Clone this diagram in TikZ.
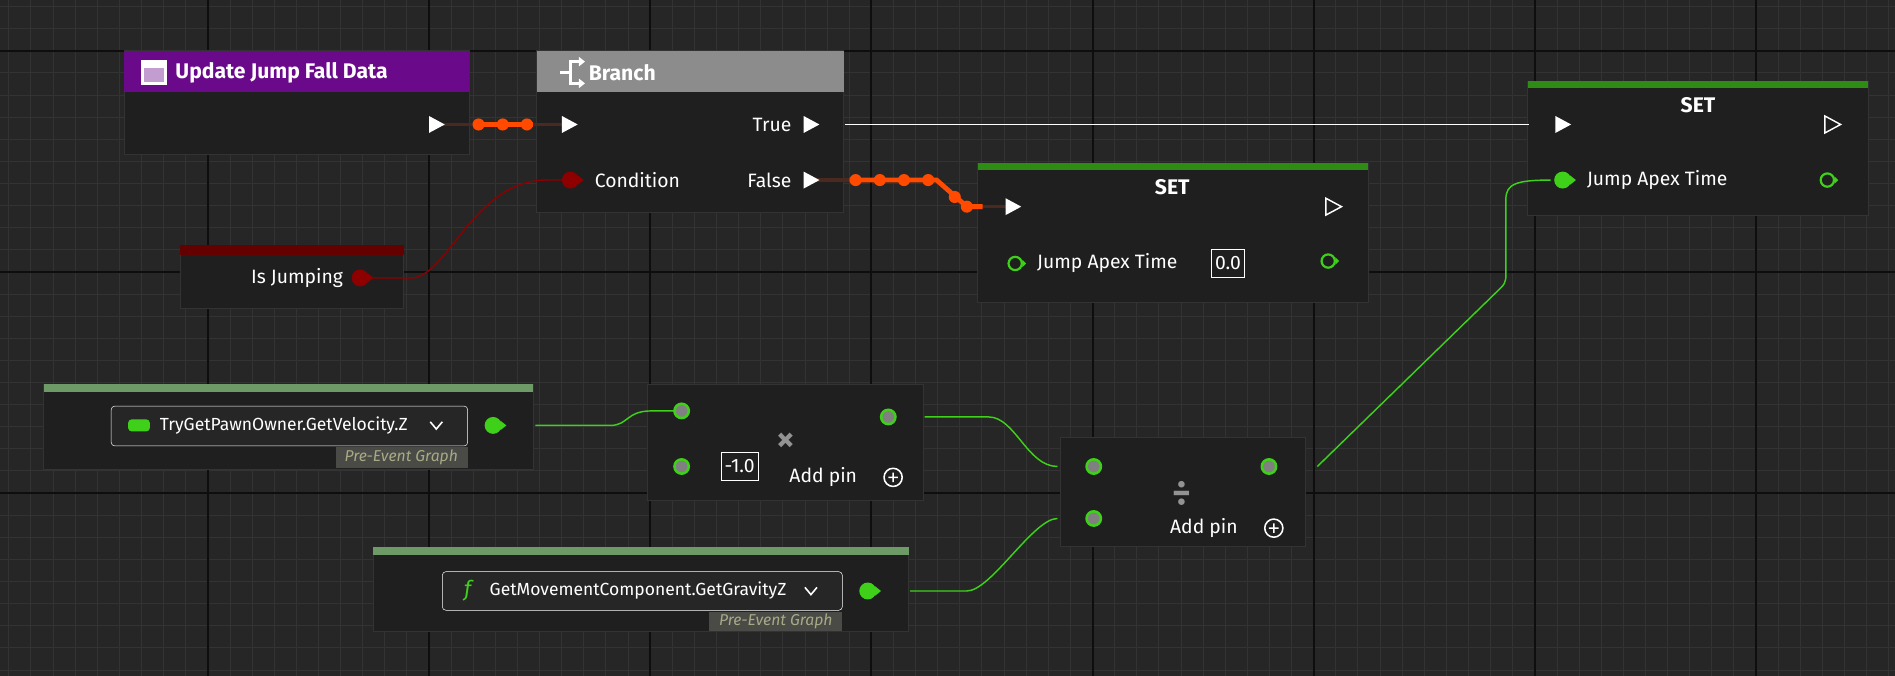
\documentclass[tikz,border=0pt]{standalone}
\usepackage{fontspec}
\setmainfont{Fira Sans}
\usetikzlibrary{calc}
\definecolor{bg}{HTML}{262626}
\definecolor{minor}{HTML}{333333}
\definecolor{major}{HTML}{0E0E0E}
\definecolor{body}{HTML}{1F1F1F}
\definecolor{purp}{HTML}{6A0A8A}
\definecolor{gry}{HTML}{8C8C8C}
\definecolor{setg}{HTML}{2E8B14}
\definecolor{lg}{HTML}{6E9A68}
\definecolor{flt}{HTML}{3FD11A}
\definecolor{boolr}{HTML}{8E0000}
\definecolor{exo}{HTML}{FF4A00}
\definecolor{exd}{HTML}{4A2A20}
\definecolor{tagc}{HTML}{4A4A46}
\definecolor{tagt}{HTML}{A8AA86}
\tikzset{x=1pt,y=-1pt,
 nbody/.style={fill=body,draw=black!80,line width=0.6pt},
 lbl/.style={text=white,font=\fontsize{16}{16}\selectfont,inner sep=0pt},
 hdr/.style={text=white!85,font=\bfseries\fontsize{17.5}{17.5}\selectfont,inner sep=0pt,anchor=west},
 pin/.style={inner sep=0pt,minimum size=1pt},
 wireg/.style={flt,line width=1.2pt},
 wireo/.style={exo,line width=4pt},
 valbox/.style={draw=white!70,line width=0.8pt,text=white,font=\fontsize{16}{16}\selectfont,inner sep=3pt,minimum height=23pt},
 opsym/.style={inner sep=0pt,text=gray!85,font=\bfseries\fontsize{30}{30}\selectfont},
}
\newcommand{\exectri}[1]{\fill[white] ($(#1)+(-6,-7)$) -- ($(#1)+(7,0)$) -- ($(#1)+(-6,7)$) -- cycle;}
\newcommand{\exechol}[1]{\draw[white,line width=1.2pt] ($(#1)+(-6,-7)$) -- ($(#1)+(7,0)$) -- ($(#1)+(-6,7)$) -- cycle;}
\newcommand{\floatpin}[1]{\fill[flt] (#1) circle (7); \fill[gray] (#1) circle (4.8);}
\newcommand{\floathol}[1]{\draw[flt,line width=1.8pt] (#1) circle (5.5); \fill[flt] ($(#1)+(6,-3)$) -- ($(#1)+(9,0)$) -- ($(#1)+(6,3)$) -- cycle;}
\newcommand{\floatfil}[1]{\fill[flt] (#1) circle (7); \fill[flt] ($(#1)+(6,-4)$) -- ($(#1)+(11,0)$) -- ($(#1)+(6,4)$) -- cycle;}
\begin{document}
\begin{tikzpicture}
\useasboundingbox (0,0) rectangle (1568,559);
\fill[bg] (0,0) rectangle (1568,559);
\foreach \i in {-10,...,90} {\draw[minor,line width=0.8pt] (172+\i*18.3,0) -- (172+\i*18.3,559);}
\foreach \i in {-3,...,30} {\draw[minor,line width=0.8pt] (0,42+\i*18.3) -- (1568,42+\i*18.3);}
\foreach \i in {-1,...,8} {\draw[major,line width=1.6pt] (172+\i*183,0) -- (172+\i*183,559);}
\foreach \i in {-1,...,3} {\draw[major,line width=1.6pt] (0,42+\i*183) -- (1568,42+\i*183);}

% ---- node bodies
\fill[nbody] (103,42) rectangle (388,128); \fill[purp] (103,42) rectangle (388,76);
\fill[white] (117,50) rectangle (138,70); \fill[purp!40!white] (119,56) rectangle (136,68);
\node[hdr] (ujfd) at (145,60) {Update Jump Fall Data};

\fill[nbody] (444,42) rectangle (698,176); \fill[gry] (444,42) rectangle (698,76);
\draw[white,line width=2.5pt] (480,51) -- (472,51) -- (472,69) -- (480,69) (463,60) -- (472,60);
\fill[white] (479,47) -- (484,51) -- (479,55) -- cycle; \fill[white] (479,65) -- (484,69) -- (479,73) -- cycle;
\node[hdr,text=white!75] (branch) at (487,60) {Branch};

\fill[nbody] (149,203) rectangle (334,255); \fill[boolr!70!black] (149,203) rectangle (334,211);
\node[lbl,anchor=east] (isj) at (284,230) {Is Jumping};

\fill[nbody] (809,135) rectangle (1132,250); \fill[setg] (809,135) rectangle (1132,141);
\node[hdr,anchor=center,text=white!80] (set1) at (970,155) {SET};
\node[lbl,anchor=west] (jat1) at (858,218) {Jump Apex Time};
\node[valbox] (v1) at (1016,218) {0.0};

\fill[nbody] (1264,67) rectangle (1546,178); \fill[setg] (1264,67) rectangle (1546,73);
\node[hdr,anchor=center,text=white!80] (set2) at (1405,87) {SET};
\node[lbl,anchor=west] (jat2) at (1313,149) {Jump Apex Time};

\fill[nbody] (36,318) rectangle (441,388); \fill[lg] (36,318) rectangle (441,324);
\filldraw[fill=black!85,draw=white!22,rounded corners=3pt] (92,336) rectangle (387,369);
\fill[flt,rounded corners=3pt] (106,347) rectangle (124,357);
\node[lbl,anchor=west,font=\fontsize{14.5}{14.5}\selectfont] (vel) at (132,352) {TryGetPawnOwner.GetVelocity.Z};
\draw[white,line width=1.3pt] (356,349) -- (361,355) -- (366,349);
\fill[tagc] (278,370) rectangle (387,387);
\node[inner sep=0pt,text=tagt,font=\itshape\fontsize{13}{13}\selectfont] (tag1) at (332,378.5) {Pre-Event Graph};

\fill[nbody] (536,318) rectangle (764,414);
\node[valbox] (v2) at (612,386) {-1.0};
\node[opsym] (mul) at (650,366) {×};
\node[lbl,anchor=west] (ap1) at (653,395) {Add pin};
\draw[white,line width=1.3pt] (739,395) circle (7.5) (735,395) -- (743,395) (739,391) -- (739,399);

\fill[nbody] (877,362) rectangle (1080,452);
\node[opsym] (divs) at (978,408) {÷};
\node[lbl,anchor=west] (ap2) at (968,437) {Add pin};
\draw[white,line width=1.3pt] (1054,437) circle (7.5) (1050,437) -- (1058,437) (1054,433) -- (1054,441);

\fill[nbody] (309,453) rectangle (752,522); \fill[lg] (309,453) rectangle (752,459);
\filldraw[fill=black!85,draw=white!22,rounded corners=3pt] (366,473) rectangle (697,505);
\node[inner sep=0pt,text=flt,font=\itshape\fontsize{18}{18}\selectfont] (fsym) at (387,489) {\textit{f}};
\node[lbl,anchor=west,font=\fontsize{14.5}{14.5}\selectfont] (grav) at (405,489) {GetMovementComponent.GetGravityZ};
\draw[white,line width=1.3pt] (666,486) -- (671,492) -- (676,486);
\fill[tagc] (587,506) rectangle (697,522);
\node[inner sep=0pt,text=tagt,font=\itshape\fontsize{13}{13}\selectfont] (tag2) at (642,514) {Pre-Event Graph};

\node[lbl,anchor=east] (truel) at (655,103) {True};
\node[lbl,anchor=east] (falsel) at (655,149) {False};
\node[lbl,anchor=west] (condl) at (492,149) {Condition};

% ---- pins
\node[pin] (pUo) at (361,103) {};
\node[pin] (pBi) at (471,103) {};
\node[pin] (pBt) at (671,103) {};
\node[pin] (pBf) at (671,149) {};
\node[pin] (pBc) at (472,149) {};
\node[pin] (pIj) at (298,230) {};
\node[pin] (pS1i) at (838,171) {};
\node[pin] (pS1o) at (1103,171) {};
\node[pin] (pS1v) at (840,218) {};
\node[pin] (pS1r) at (1099,216) {};
\node[pin] (pS2i) at (1293,103) {};
\node[pin] (pS2o) at (1516,103) {};
\node[pin] (pS2v) at (1293,149) {};
\node[pin] (pS2r) at (1512,149) {};
\node[pin] (pVo) at (408,352) {};
\node[pin] (pMa) at (564,340) {};
\node[pin] (pMb) at (564,386) {};
\node[pin] (pMo) at (735,345) {};
\node[pin] (pDa) at (905,386) {};
\node[pin] (pDb) at (905,429) {};
\node[pin] (pDo) at (1050,386) {};
\node[pin] (pGo) at (718,489) {};

% ---- wires
\draw[white!65,line width=1.2pt] ($(pBt)+(28,0)$) -- ($(pS2i)+(-28,0)$);
\draw[boolr,line width=1.1pt] (pIj) -- ++(42,0) .. controls +(30,0) and +(-60,0) .. ($(pBc)+(-20,0)$) -- (pBc);
\draw[exd,line width=3pt] (pUo) -- (pBi);
\draw[wireo] ($(pUo)+(30,0)$) -- ($(pBi)+(-30,0)$);
\foreach \p in {396,416,436} \fill[exo] (\p,103) circle (5);
\draw[exd,line width=3pt] (pBf) -- ++(35,0);
\draw[exd,line width=3pt] (pS1i) -- ++(-30,0);
\draw[wireo] ($(pBf)+(32,0)$) -- (775,149) -- (800,171) -- ($(pS1i)+(-25,0)$);
\foreach \p in {708,728,748,768} \fill[exo] (\p,149) circle (5);
\fill[exo] (790,163) circle (5); \fill[exo] (800,171) circle (5);
\draw[wireg] ($(pVo)+(35,0)$) -- (505,352) .. controls (520,352) and (518,340) .. ($(pMa)+(-25,0)$) -- (pMa);
\draw[wireg] ($(pMo)+(30,0)$) -- (818,345) .. controls (840,345) and (850,386) .. ($(pDa)+(-30,0)$);
\draw[wireg] ($(pGo)+(35,0)$) -- (800,489) .. controls (820,489) and (855,429) .. ($(pDb)+(-30,0)$);
\draw[wireg] ($(pDo)+(40,0)$) -- (1242,238) .. controls (1247,233) and (1246,230) .. (1246,220) -- (1246,165) .. controls (1246,152) and (1255,149) .. ($(pS2v)+(-10,0)$);

% ---- pin glyphs
\exectri{pUo} \exectri{pBi} \exectri{pBt} \exectri{pBf}
\exectri{pS1i} \exechol{pS1o} \exectri{pS2i} \exechol{pS2o}
\fill[boolr] (pBc) circle (7); \fill[boolr] ($(pBc)+(6,-4)$) -- ($(pBc)+(11,0)$) -- ($(pBc)+(6,4)$) -- cycle;
\fill[boolr] (pIj) circle (7); \fill[boolr] ($(pIj)+(6,-4)$) -- ($(pIj)+(11,0)$) -- ($(pIj)+(6,4)$) -- cycle;
\floathol{pS1v} \floathol{pS1r} \floathol{pS2r}
\floatfil{pS2v} \floatfil{pVo} \floatfil{pGo}
\floatpin{pMa} \floatpin{pMb} \floatpin{pMo} \floatpin{pDa} \floatpin{pDb} \floatpin{pDo}
\end{tikzpicture}
\end{document}
